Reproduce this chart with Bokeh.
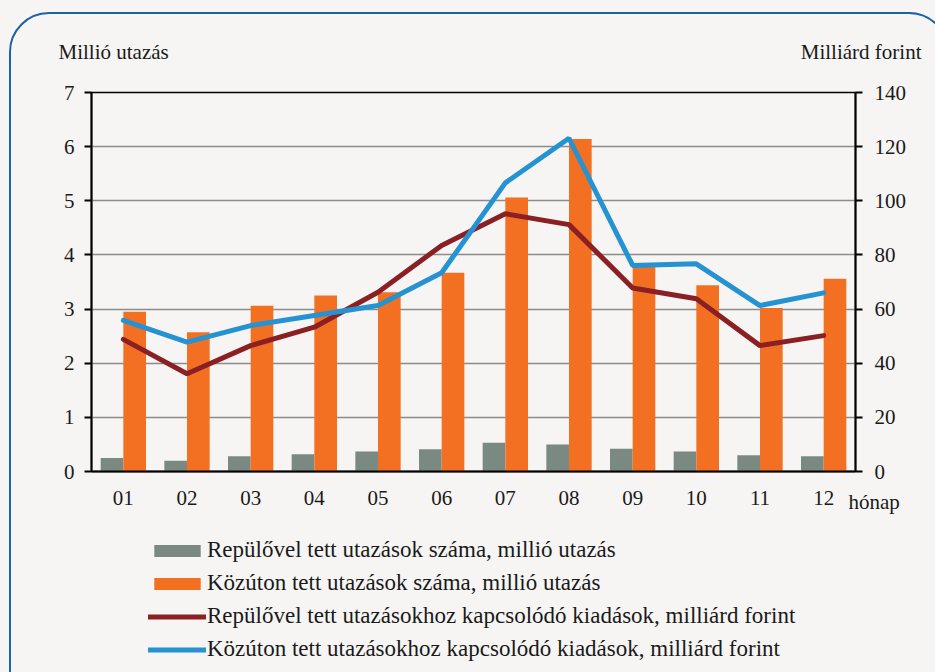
from bokeh.plotting import figure
from bokeh.layouts import column
from bokeh.models import (FactorRange, Range1d, LinearAxis, Label, Legend, LegendItem,
                          FixedTicker, ColumnDataSource, InlineStyleSheet)
from bokeh.transform import dodge
from bokeh.embed import file_html
from bokeh.resources import INLINE

months = ["01", "02", "03", "04", "05", "06", "07", "08", "09", "10", "11", "12"]
air_trips = [0.25, 0.20, 0.28, 0.32, 0.37, 0.41, 0.53, 0.50, 0.42, 0.37, 0.30, 0.28]
road_trips = [2.95, 2.57, 3.06, 3.25, 3.31, 3.67, 5.06, 6.14, 3.80, 3.44, 3.02, 3.56]
air_spend = [48.8, 36.1, 46.5, 53.3, 66.2, 83.5, 95.2, 91.2, 67.8, 63.8, 46.5, 50.2]
road_spend = [55.8, 47.8, 53.9, 57.6, 61.3, 73.4, 106.6, 123.1, 76.1, 76.7, 61.3, 66.0]
left_ticks = [0, 1, 2, 3, 4, 5, 6, 7]
right_ticks = [0, 20, 40, 60, 80, 100, 120, 140]
legend_labels = [
    "Repülővel tett utazások száma, millió utazás",
    "Közúton tett utazások száma, millió utazás",
    "Repülővel tett utazásokhoz kapcsolódó kiadások, milliárd forint",
    "Közúton tett utazásokhoz kapcsolódó kiadások, milliárd forint",
]
left_title = "Millió utazás"
right_title = "Milliárd forint"
x_title = "hónap"

FONT = "Liberation Serif"
BG = "#f6f5f3"
GREY = "#7a8a82"
ORANGE = "#f37023"
RED = "#8b2024"
BLUE = "#2592d2"
FRAME_BLUE = "#1d62a6"
TXT = "#1a1a1a"

src = ColumnDataSource(dict(m=months, air=air_trips, road=road_trips,
                            airs=air_spend, roads=road_spend))
bw = 0.356


def draw_series(fig):
    a = fig.vbar(x=dodge("m", -bw / 2, range=fig.x_range), top="air", width=bw, source=src,
                 fill_color=GREY, line_color=None)
    b = fig.vbar(x=dodge("m", bw / 2, range=fig.x_range), top="road", width=bw, source=src,
                 fill_color=ORANGE, line_color=None)
    c = fig.line(x="m", y="airs", source=src, y_range_name="right", line_color=RED,
                 line_width=5, line_cap="round")
    d = fig.line(x="m", y="roads", source=src, y_range_name="right", line_color=BLUE,
                 line_width=5, line_cap="round")
    return [a, b, c, d]


# ---------------- main chart ----------------
p = figure(width=935, height=520, x_range=FactorRange(factors=months), y_range=Range1d(0, 7),
           output_backend="svg", toolbar_location=None,
           min_border_left=91, min_border_right=80, min_border_top=92, min_border_bottom=49,
           background_fill_color=BG, border_fill_color=BG)
p.extra_y_ranges = {"right": Range1d(0, 140)}
draw_series(p)

p.xgrid.visible = False
p.ygrid.grid_line_color = "#8c8c8c"
p.ygrid.grid_line_width = 1.3
p.ygrid.ticker = FixedTicker(ticks=left_ticks)
p.outline_line_color = "black"
p.outline_line_width = 1.5

yl = p.yaxis[0]
yl.ticker = FixedTicker(ticks=left_ticks)
xa = p.xaxis[0]
ry = LinearAxis(y_range_name="right", ticker=FixedTicker(ticks=right_ticks))
p.add_layout(ry, "right")

for ax in (yl, ry):
    ax.axis_line_color = "black"
    ax.axis_line_width = 2
    ax.major_tick_line_color = "black"
    ax.major_tick_line_width = 2
    ax.major_tick_out = 7
    ax.major_tick_in = 0
    ax.minor_tick_line_color = None
    ax.major_label_text_font = FONT
    ax.major_label_text_font_size = "21px"
    ax.major_label_text_color = TXT
yl.major_label_standoff = 10
ry.major_label_standoff = 12

xa.axis_line_color = "black"
xa.axis_line_width = 2
xa.major_tick_line_color = None
xa.major_tick_out = 0
xa.major_tick_in = 0
xa.minor_tick_line_color = None
xa.major_label_text_font = FONT
xa.major_label_text_font_size = "21px"
xa.major_label_text_color = TXT
xa.major_label_standoff = 19


def side_label(text, x, y, align):
    return Label(x=x, y=y, x_units="screen", y_units="screen", text=text,
                 text_font=FONT, text_font_size="21px", text_color=TXT,
                 text_baseline="middle", text_align=align)


p.add_layout(side_label(left_title, -33, 41, "left"), "above")
p.add_layout(side_label(right_title, 830, 17, "right"), "above")
p.add_layout(side_label(x_title, 757, -457, "left"), "above")

# ---------------- legend strip (series kept out of view, only the legend shows) ----------
p2 = figure(width=935, height=152, x_range=p.x_range, y_range=Range1d(1000, 1001),
            x_axis_location=None, y_axis_location=None, output_backend="svg",
            toolbar_location=None, min_border=0, background_fill_color=BG,
            border_fill_color=BG, outline_line_color=None)
p2.extra_y_ranges = {"right": Range1d(1000, 1001)}
p2.grid.visible = False
legend_renderers = draw_series(p2)

legend = Legend(items=[LegendItem(label=legend_labels[i], renderers=[r])
                       for i, r in enumerate(legend_renderers)],
                location=(57, 10), orientation="vertical",
                glyph_width=58, glyph_height=15, label_standoff=1, spacing=7,
                padding=0, margin=0, label_text_font=FONT, label_text_font_size="23px",
                label_text_color=TXT, background_fill_alpha=0, border_line_color=None,
                label_height=20)
p2.add_layout(legend)

layout = column(p, p2, spacing=0)
layout.stylesheets = [InlineStyleSheet(css=(
    ":host::after{content:'';position:absolute;left:9px;top:12px;width:940px;height:720px;"
    "border:2px solid %s;border-radius:40px;pointer-events:none;box-sizing:border-box;"
    "z-index:10;}" % FRAME_BLUE))]

html = file_html(layout, INLINE)
html = html.replace("<head>", "<head><style>html,body{background:%s;overflow:hidden;}</style>" % BG, 1)
open("out.html", "w").write(html)
